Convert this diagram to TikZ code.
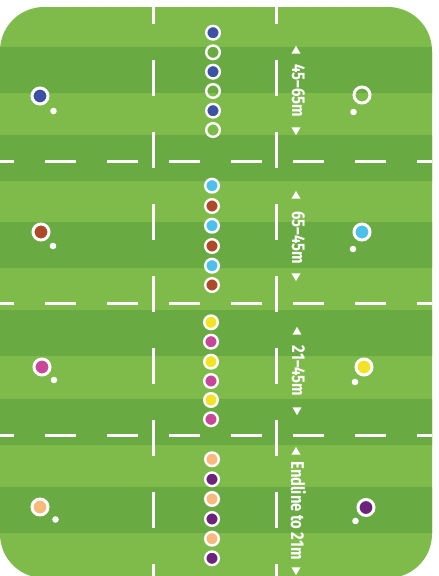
\documentclass[tikz,border=0pt]{standalone}
\usepackage{fontspec}
\setmainfont{Fira Sans}
\usetikzlibrary{shapes.geometric}
\definecolor{lgreen}{HTML}{7EBB4A}
\definecolor{dgreen}{HTML}{69AB42}
\definecolor{cblue}{HTML}{3E52A3}
\definecolor{csky}{HTML}{4DC0EC}
\definecolor{cbrown}{HTML}{B0492A}
\definecolor{cyellow}{HTML}{F3E327}
\definecolor{cmagenta}{HTML}{C8479A}
\definecolor{cpeach}{HTML}{F7B97C}
\definecolor{cpurple}{HTML}{6B2479}
\newcommand{\cond}[1]{\scalebox{0.8}[1]{#1}}
\begin{document}
\begin{tikzpicture}[x=1pt,y=-1pt,
  pdot/.style={circle,draw=white,line width=2.4pt,minimum size=13.6pt,inner sep=0pt},
  bdot/.style={circle,draw=white,line width=3pt,minimum size=16pt,inner sep=0pt},
  sdot/.style={circle,fill=white,minimum size=6.6pt,inner sep=0pt},
  fieldline/.style={white,line width=3pt},
  lbl/.style={text=white,font=\fontsize{18.5}{18.5}\selectfont\bfseries,rotate=-90,inner sep=0pt},
  uptri/.style={regular polygon,regular polygon sides=3,fill=white,minimum size=10.4pt,inner sep=0pt},
  dntri/.style={uptri,shape border rotate=180}
]
\useasboundingbox (0,0) rectangle (439,576);
\begin{scope}
  \clip[rounded corners=44pt] (0,7) rectangle (432,578);
  \fill[lgreen] (0,0) rectangle (439,580);
  \foreach \a/\b in {47/93,135/181,222/268,310/356,399/445,487/533}
    \fill[dgreen] (0,\a) rectangle (439,\b);
  \foreach \xx in {153,276}
    \draw[fieldline,dash pattern=on 36pt off 36pt] (\xx,-12) -- (\xx,600);
  \foreach \yy in {161.5,303,435.3}
    \draw[fieldline,dash pattern=on 31pt off 31pt] (-17,\yy) -- (460,\yy);
\end{scope}
% centre column dots
\foreach \yy/\c [count=\i] in {32.7/cblue,52.3/none,71.7/cblue,91/none,110.7/cblue,130/none}
  \node[pdot,fill=\c] (ga\i) at (213,\yy) {};
\foreach \yy/\c [count=\i] in {185.7/csky,206/cbrown,225.7/csky,246/cbrown,265.7/csky,285/cbrown}
  \node[pdot,fill=\c] (gb\i) at (212,\yy) {};
\foreach \yy/\c [count=\i] in {322.3/cyellow,341.7/cmagenta,361.7/cyellow,381/cmagenta,400/cyellow,419.3/cmagenta}
  \node[pdot,fill=\c] (gc\i) at (211,\yy) {};
\foreach \yy/\c [count=\i] in {459.3/cpeach,479.3/cpurple,499/cpeach,519/cpurple,538.7/cpeach,558.3/cpurple}
  \node[pdot,fill=\c] (gd\i) at (212,\yy) {};
% side players
\node[bdot,fill=cblue] (la) at (40,96) {};
\node[sdot] (las) at (53.5,111) {};
\node[bdot] (ra) at (362,95) {};
\node[sdot] (ras) at (353.5,112) {};
\node[bdot,fill=cbrown] (lb) at (41,232) {};
\node[sdot] (lbs) at (53,246) {};
\node[bdot,fill=csky] (rb) at (362,232) {};
\node[sdot] (rbs) at (353,249) {};
\node[bdot,fill=cmagenta] (lc) at (42,367) {};
\node[sdot] (lcs) at (54,380) {};
\node[bdot,fill=cyellow] (rc) at (364,367) {};
\node[sdot] (rcs) at (355,382) {};
\node[bdot,fill=cpeach] (ld) at (40,507) {};
\node[sdot] (lds) at (55.5,519.5) {};
\node[bdot,fill=cpurple] (rd) at (366,507.5) {};
\node[sdot] (rds) at (355.5,521) {};
% labels
\node[uptri] (ta1) at (296,51) {};
\node[lbl] (la1) at (298.5,91) {\cond{45–65m}};
\node[dntri] (tb1) at (296,130) {};
\node[uptri] (ta2) at (296,196) {};
\node[lbl] (la2) at (298.5,237.5) {\cond{65–45m}};
\node[dntri] (tb2) at (296,276) {};
\node[uptri] (ta3) at (297,332) {};
\node[lbl] (la3) at (298.5,371) {\cond{21–45m}};
\node[dntri] (tb3) at (297,410) {};
\node[uptri] (ta4) at (296,452) {};
\node[lbl] (la4) at (298.5,510.5) {\cond{Endline to 21m}};
\node[dntri] (tb4) at (296,570) {};
\end{tikzpicture}
\end{document}
